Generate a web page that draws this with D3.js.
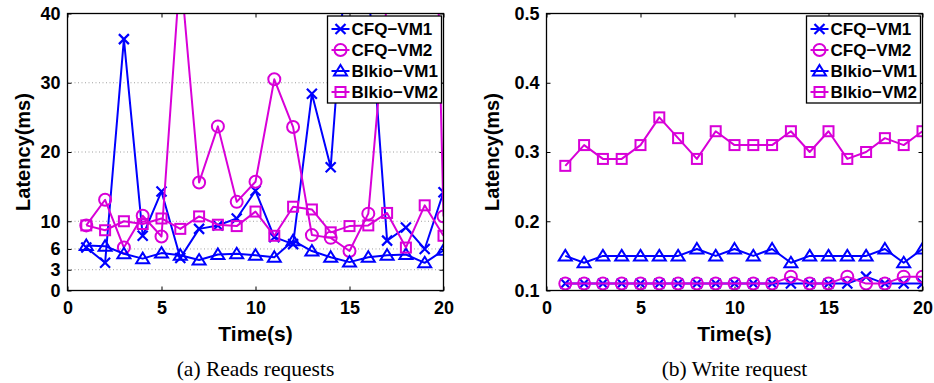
<!DOCTYPE html>
<html><head><meta charset="utf-8">
<script src="https://cdn.jsdelivr.net/npm/d3@7/dist/d3.min.js"></script>
<style>
body{margin:0;background:#fff;}
</style></head>
<body><svg id="c" width="934" height="383" style="font-family:'Liberation Sans',Arial,Helvetica,sans-serif"></svg>
<script>
const times = [1,2,3,4,5,6,7,8,9,10,11,12,13,14,15,16,17,18,19,20];
const seriesNames = ["CFQ\u2212VM1","CFQ\u2212VM2","Blkio\u2212VM1","Blkio\u2212VM2"];
// Reads (ms)
const readCFQ1  = [6.2,4.0,36.3,7.9,14.3,4.7,8.9,9.4,10.4,14.4,7.7,6.7,28.4,17.8,54,44,7.2,9.1,6.0,14.2];
const readCFQ2  = [9.4,13.1,6.2,10.8,7.8,46.5,15.6,23.7,12.8,15.7,30.5,23.6,8.0,7.6,5.7,11.1,42,80,125,10.7];
const readBlk1  = [6.5,6.4,5.3,4.6,5.4,5.1,4.4,5.2,5.3,5.1,4.8,7.2,5.7,4.8,4.1,4.8,5.1,5.2,4.0,5.8];
const readBlk2  = [9.4,8.7,10.0,9.6,10.4,8.9,10.7,9.5,9.3,11.4,7.9,12.1,11.7,8.4,9.3,9.4,11.2,6.2,12.3,7.9];
// Writes (ms)
const writeCFQ1 = [0.11,0.11,0.11,0.11,0.11,0.11,0.11,0.11,0.11,0.11,0.11,0.11,0.11,0.11,0.11,0.11,0.12,0.11,0.11,0.11];
const writeCFQ2 = [0.11,0.11,0.11,0.11,0.11,0.11,0.11,0.11,0.11,0.11,0.11,0.11,0.12,0.11,0.11,0.12,0.11,0.11,0.12,0.12];
const writeBlk1 = [0.15,0.14,0.15,0.15,0.15,0.15,0.15,0.16,0.15,0.16,0.15,0.16,0.14,0.15,0.15,0.15,0.15,0.16,0.14,0.16];
const writeBlk2 = [0.28,0.31,0.29,0.29,0.31,0.35,0.32,0.29,0.33,0.31,0.31,0.31,0.33,0.30,0.33,0.29,0.30,0.32,0.31,0.33];
const xTicks = [0,5,10,15,20];
const readYTicks = [0,3,6,10,20,30,40];
const writeYTicks = [0.1,0.2,0.3,0.4,0.5];
const captions = ["(a) Reads requests","(b) Write request"];

const BLUE="#0000ff", MAG="#d800d8";
const colors=[BLUE,MAG,BLUE,MAG];
const markers=["x","o","^","s"];
const SANS="'Liberation Sans',Arial,Helvetica,sans-serif";
const SERIF="'Liberation Serif','Times New Roman',serif";

const svg=d3.select("#c");

function drawMarker(g,type,x,y,color){
  if(type==="x"){
    const r=5;
    g.append("path").attr("d",`M${x-r},${y-r}L${x+r},${y+r}M${x-r},${y+r}L${x+r},${y-r}`)
      .attr("stroke",color).attr("stroke-width",2.2).attr("fill","none");
  } else if(type==="o"){
    g.append("circle").attr("cx",x).attr("cy",y).attr("r",6).attr("stroke",color).attr("stroke-width",2).attr("fill","none");
  } else if(type==="^"){
    const w=6.5,h=6;
    g.append("path").attr("d",`M${x},${y-h}L${x+w},${y+h*0.75}L${x-w},${y+h*0.75}Z`)
      .attr("stroke",color).attr("stroke-width",2).attr("fill","none");
  } else if(type==="s"){
    const s=5;
    g.append("rect").attr("x",x-s).attr("y",y-s).attr("width",2*s).attr("height",2*s)
      .attr("stroke",color).attr("stroke-width",2).attr("fill","none");
  }
}

function panel(opt){
  const {left,right,top,bottom,ydomain,yticks,yfmt,data,grid,id,caption,ylabelX}=opt;
  const x=d3.scaleLinear().domain([0,20]).range([left,right]);
  const y=d3.scaleLinear().domain(ydomain).range([bottom,top]);
  const g=svg.append("g");
  g.append("defs").append("clipPath").attr("id",id).append("rect")
    .attr("x",left).attr("y",top).attr("width",right-left).attr("height",bottom-top);
  if(grid){
    g.append("g").selectAll("line").data(yticks.filter(t=>t>ydomain[0]&&t<ydomain[1])).join("line")
      .attr("x1",left).attr("x2",right).attr("y1",d=>y(d)).attr("y2",d=>y(d))
      .attr("stroke","#a0a0a0").attr("stroke-width",1).attr("stroke-dasharray","1,2.5");
  }
  const ax=(a)=>a.tickSizeInner(-4).tickSizeOuter(0).tickPadding(7);
  const gb=g.append("g").attr("transform",`translate(0,${bottom})`).call(ax(d3.axisBottom(x).tickValues(xTicks).tickFormat(d3.format("d"))));
  const gt=g.append("g").attr("transform",`translate(0,${top})`).call(ax(d3.axisTop(x).tickValues(xTicks)).tickFormat(""));
  const gl=g.append("g").attr("transform",`translate(${left},0)`).call(ax(d3.axisLeft(y).tickValues(yticks).tickFormat(yfmt)));
  const gr=g.append("g").attr("transform",`translate(${right},0)`).call(ax(d3.axisRight(y).tickValues(yticks)).tickFormat(""));
  [gb,gt,gl,gr].forEach(a=>{a.attr("font-family",null).attr("font-size",null);
    a.select(".domain").remove();a.selectAll("line").attr("stroke","#000");
    a.selectAll("text").style("font-size","18px").style("font-weight","bold").attr("fill","#000").style("font-family",SANS);});
  gb.selectAll("text").attr("dy","0.9em");
  const plot=g.append("g").attr("clip-path",`url(#${id})`);
  const line=d3.line().x((d,i)=>x(times[i])).y(d=>y(d));
  data.forEach((vals,k)=>{
    plot.append("path").attr("d",line(vals)).attr("stroke",colors[k]).attr("stroke-width",2).attr("fill","none").attr("stroke-linejoin","round");
    vals.forEach((v,i)=>drawMarker(plot,markers[k],x(times[i]),y(v),colors[k]));
  });
  g.append("rect").attr("x",left).attr("y",top).attr("width",right-left).attr("height",bottom-top)
    .attr("fill","none").attr("stroke","#000").attr("stroke-width",1.3);
  g.append("text").attr("x",(left+right)/2).attr("y",341).attr("text-anchor","middle")
    .style("font-family",SANS).style("font-size","21px").style("font-weight","bold").text("Time(s)");
  g.append("text").attr("transform",`translate(${ylabelX},${(top+bottom)/2}) rotate(-90)`).attr("text-anchor","middle")
    .style("font-family",SANS).style("font-size","20px").style("font-weight","bold").text("Latency(ms)");
  g.append("text").attr("x",(left+right)/2).attr("y",376).attr("text-anchor","middle")
    .style("font-family",SERIF).style("font-size","21.5px").text(caption);
  const lw=114, lh=87, lx=right-2-lw, ly=16;
  const lg=g.append("g");
  lg.append("rect").attr("x",lx).attr("y",ly).attr("width",lw).attr("height",lh).attr("fill","#fff").attr("stroke","#000").attr("stroke-width",1.3);
  seriesNames.forEach((nm,k)=>{
    const yy=ly+13+k*21;
    lg.append("line").attr("x1",lx+4).attr("x2",lx+22).attr("y1",yy).attr("y2",yy).attr("stroke",colors[k]).attr("stroke-width",2);
    drawMarker(lg,markers[k],lx+13,yy,colors[k]);
    lg.append("text").attr("x",lx+24).attr("y",yy+6).style("font-family",SANS).style("font-size","17px").style("font-weight","bold").text(nm);
  });
}

panel({left:67.5,right:443.5,top:13.5,bottom:290.5,ydomain:[0,40],yticks:readYTicks,yfmt:d3.format("d"),
  data:[readCFQ1,readCFQ2,readBlk1,readBlk2],grid:true,id:"clipA",caption:captions[0],ylabelX:30});
panel({left:546.5,right:922.5,top:13.5,bottom:290.5,ydomain:[0.1,0.5],yticks:writeYTicks,yfmt:d3.format(".1f"),
  data:[writeCFQ1,writeCFQ2,writeBlk1,writeBlk2],grid:false,id:"clipB",caption:captions[1],ylabelX:499});
</script></body></html>
